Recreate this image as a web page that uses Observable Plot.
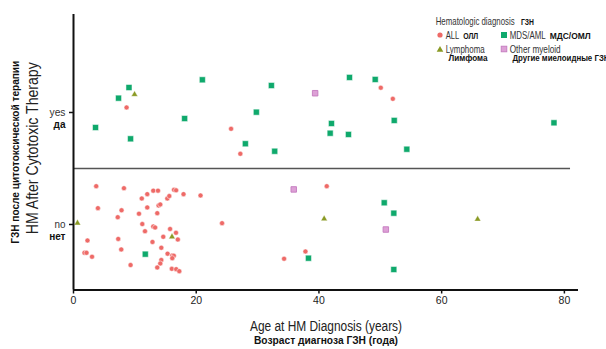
<!DOCTYPE html>
<html>
<head>
<meta charset="utf-8">
<script src="https://cdn.jsdelivr.net/npm/d3@7"></script>
<script src="https://cdn.jsdelivr.net/npm/@observablehq/plot@0.6"></script>
<style>
  html, body { margin: 0; padding: 0; background: #fff; }
  #wrap { position: relative; width: 606px; height: 349px; overflow: hidden; }
  #legend { position: absolute; left: 0; top: 0; }
</style>
</head>
<body>
<div id="wrap"></div>
<script>
// ---- data ----
const categories = ["ALL", "MDS/AML", "Lymphoma", "Other myeloid"];
const categoriesRu = ["ОЛЛ", "МДС/ОМЛ", "Лимфома", "Другие миелоидные ГЗН"];
const colors = ["#EE6A67", "#0FA96C", "#8A9A24", "#DDA0D6"];

// y: 1 = yes (HM after cytotoxic therapy), 0 = no, plus jitter as drawn
const allAge = [8.65, 25.68, 27.19, 50.08, 52.04,
  3.70, 8.22, 11.13, 12.02, 13.00, 13.77, 15.29, 15.61, 16.38, 16.72, 17.93, 20.70,
  3.98, 7.83, 7.21, 10.67, 12.02, 13.87, 14.14, 13.65, 11.21, 11.65, 13.00, 13.30,
  15.74, 16.70, 14.63, 17.00, 2.28, 7.29, 12.87, 7.78, 14.31, 1.79, 2.12, 3.02,
  15.33, 16.10, 16.35, 16.10, 14.31, 14.14, 9.30, 13.65, 16.02, 16.74, 17.24,
  41.27, 24.21, 37.80, 34.32];
const allY = [1.045, 0.854, 0.631, 1.221, 1.122,
  0.342, 0.324, 0.232, 0.271, 0.302, 0.302, 0.232, 0.254, 0.310, 0.305, 0.271, 0.259,
  0.146, 0.127, 0.065, 0.096, 0.152, 0.170, 0.179, 0.101, 0.004, -0.060, -0.018, -0.027,
  -0.040, -0.074, -0.110, -0.134, -0.143, -0.129, -0.156, -0.223, -0.208, -0.253, -0.253, -0.288,
  -0.261, -0.277, -0.279, -0.301, -0.317, -0.348, -0.362, -0.384, -0.396, -0.399, -0.417,
  0.342, 0.012, -0.241, -0.306];

const mdsAge = [9.04, 7.34, 3.59, 9.30, 21.00, 18.11, 32.25, 29.80, 28.01, 32.79,
  42.04, 41.83, 44.98, 49.17, 44.81, 52.27, 54.32, 78.30,
  11.70, 50.64, 52.20, 38.29, 52.20];
const mdsY = [1.223, 1.128, 0.866, 0.765, 1.292, 0.946, 1.241, 1.003, 0.721, 0.654,
  0.902, 0.815, 1.313, 1.295, 0.804, 0.929, 0.672, 0.908,
  -0.265, 0.194, 0.101, -0.301, -0.402];

const lymAge = [9.95, 0.65, 16.05, 40.85, 65.86];
const lymY = [1.161, 0.013, -0.110, 0.051, 0.047];

const othAge = [39.38, 35.89, 50.90];
const othY = [1.172, 0.313, -0.045];

const xTicks = [0, 20, 40, 60, 80];
const yTicks = [0, 1];
const yTickEn = ["no", "yes"];
const yTickRu = ["нет", "да"];
const xDomain = [0, 82.3];
const yDomain = [-0.585, 1.875];
const separatorAt = 0.5;
const separatorEnd = 81;

const xLabelEn = "Age at HM Diagnosis (years)";
const xLabelRu = "Возраст диагноза ГЗН (года)";
const yLabelEn = "HM After Cytotoxic Therapy";
const yLabelRu = "ГЗН после цитотоксической терапии";
const legendTitleEn = "Hematologic diagnosis";
const legendTitleRu = "ГЗН";

const SANS = "'Liberation Sans', Arial, sans-serif";

const toRows = (cat, ages, ys) => ages.map((a, i) => ({cat, age: a, y: ys[i]}));
const allPts = toRows(categories[0], allAge, allY);
const mdsPts = toRows(categories[1], mdsAge, mdsY);
const lymPts = toRows(categories[2], lymAge, lymY);
const othPts = toRows(categories[3], othAge, othY);

const chart = Plot.plot({
  width: 606,
  height: 349,
  marginLeft: 73,
  marginRight: 28,
  marginTop: 14,
  marginBottom: 59.5,
  style: {fontFamily: SANS, background: "#fff", color: "#222"},
  x: {domain: xDomain},
  y: {domain: yDomain},
  marks: [
    Plot.ruleY([separatorAt], {x1: 0, x2: separatorEnd, stroke: "#555", strokeWidth: 1.5}),
    Plot.dot(allPts, {x: "age", y: "y", r: 2.5, fill: colors[0], stroke: "#fff", strokeWidth: 0.5}),
    Plot.dot(mdsPts, {x: "age", y: "y", r: 3.4, symbol: "square", fill: colors[1], stroke: "#fff", strokeWidth: 0.5}),
    Plot.dot(lymPts, {x: "age", y: "y", r: 2.4, symbol: "triangle", fill: colors[2], stroke: "#fff", strokeWidth: 0.4}),
    Plot.dot(othPts, {x: "age", y: "y", r: 3.1, symbol: "square", fill: colors[3], stroke: "#C47BBE", strokeWidth: 0.9}),
    Plot.ruleX([xDomain[0]], {stroke: "#111", strokeWidth: 2}),
    Plot.ruleY([yDomain[0]], {stroke: "#111", strokeWidth: 2}),
    Plot.axisX({ticks: xTicks, tickSize: 4, tickPadding: 3, label: null, fontSize: 10.5, strokeWidth: 1.5, stroke: "#111", fill: "#222"}),
    Plot.axisY({ticks: yTicks, tickSize: 4, tickPadding: 4, label: null, fontSize: 11.5, strokeWidth: 1.5, stroke: "#111", fill: "#333", className: "yt-en",
      tickFormat: d => yTickEn[yTicks.indexOf(d)]}),
    Plot.axisY({ticks: yTicks, tickSize: 0, tickPadding: 8, label: null, fontSize: 10, fontWeight: "bold", dy: 12, fill: "#111",
      tickFormat: d => yTickRu[yTicks.indexOf(d)]}),
    Plot.text([xLabelEn], {frameAnchor: "bottom", dy: 40.5, fontSize: 15.5, fill: "#222", className: "xl-en"}),
    Plot.text([xLabelRu], {frameAnchor: "bottom", dy: 53.5, fontSize: 10.5, fontWeight: "bold", fill: "#111", className: "xl-ru"}),
    Plot.text([yLabelEn], {frameAnchor: "left", textAnchor: "middle", dx: -41, dy: -4, rotate: -90, fontSize: 16, fill: "#222", className: "yl-en"}),
    Plot.text([yLabelRu], {frameAnchor: "left", textAnchor: "middle", dx: -58, rotate: -90, fontSize: 10.5, fontWeight: "bold", fill: "#111", className: "yl-ru"})
  ]
});

// condense the axis titles to the widths seen in the picture
const fit = (cls, len) => d3.select(chart).selectAll(`.${cls} text`)
  .attr("textLength", len).attr("lengthAdjust", "spacingAndGlyphs");
fit("xl-en", 152);
fit("xl-ru", 144);
fit("yl-en", 172);
fit("yl-ru", 183);
d3.select(chart).selectAll(".yt-en text").attr("textLength", function() {
  return this.textContent === "yes" ? 16 : 11;
}).attr("lengthAdjust", "spacingAndGlyphs");

const wrap = document.getElementById("wrap");
wrap.appendChild(chart);

// ---- legend (SVG overlay built from the category arrays) ----
const lg = d3.select(wrap).append("svg").attr("id", "legend")
  .attr("width", 606).attr("height", 70)
  .style("font-family", SANS);

function txt(s, x, y, size, len, bold) {
  lg.append("text").attr("x", x).attr("y", y).attr("font-size", size)
    .attr("font-weight", bold ? "bold" : null).attr("fill", bold ? "#111" : "#333")
    .attr("textLength", len).attr("lengthAdjust", "spacingAndGlyphs").text(s);
}
txt(legendTitleEn, 435.7, 24.5, 10.5, 79, false);
txt(legendTitleRu, 521, 24.5, 8.5, 13, true);

const colX = [440, 504];
const rowY = [35, 49];
const enLen = [13.5, 36, 39, 51];
const ruLen = [15, 41, 39, 97];
categories.forEach((cat, i) => {
  const col = i % 2, row = Math.floor(i / 2);
  const cx = colX[col], cy = rowY[row];
  if (i === 0) lg.append("circle").attr("cx", cx).attr("cy", cy).attr("r", 2.6).attr("fill", colors[i]);
  else if (i === 1) lg.append("rect").attr("x", cx - 3).attr("y", cy - 3).attr("width", 6).attr("height", 6).attr("fill", colors[i]);
  else if (i === 2) lg.append("path").attr("d", `M${cx},${cy - 3} L${cx + 3.3},${cy + 2.8} L${cx - 3.3},${cy + 2.8} Z`).attr("fill", colors[i]);
  else lg.append("rect").attr("x", cx - 2.8).attr("y", cy - 2.8).attr("width", 5.6).attr("height", 5.6)
    .attr("fill", colors[i]).attr("stroke", "#C47BBE").attr("stroke-width", 0.9);
  txt(cat, cx + 5.7, cy + 3.8, 11, enLen[i], false);
  if (row === 0) {
    txt(categoriesRu[i], cx + 5.7 + enLen[i] + 4, cy + 3.5, 9, ruLen[i], true);
  } else {
    txt(categoriesRu[i], cx + 8.5, cy + 12, 9, ruLen[i], true);
  }
});
</script>
</body>
</html>
